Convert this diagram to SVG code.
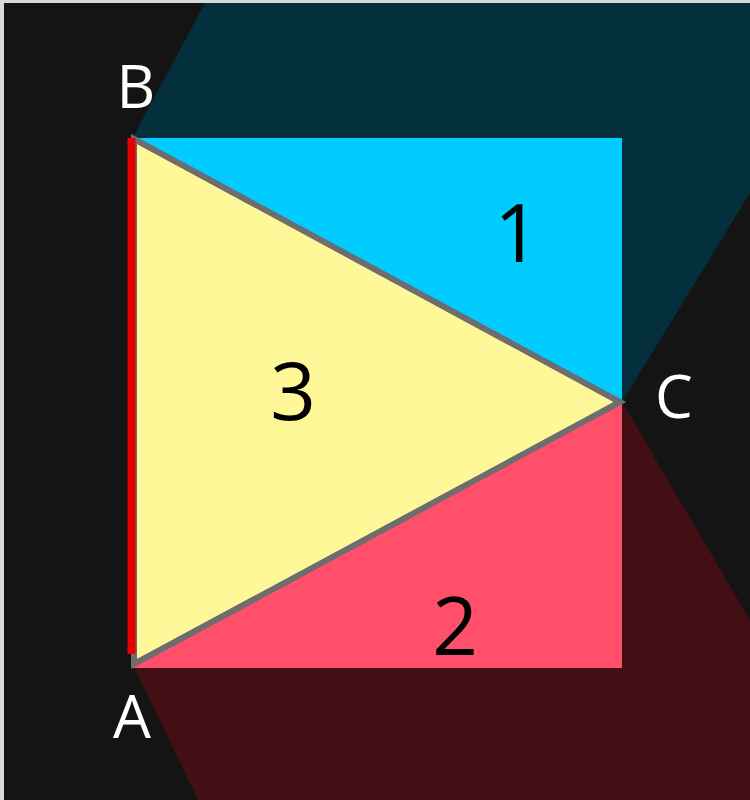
<svg xmlns="http://www.w3.org/2000/svg" width="750" height="800" viewBox="0 0 750 800">
  <style>
    .lbl { font-family: "Open Sans", "Liberation Sans", sans-serif; fill: #ffffff; text-anchor: middle; font-size: 60px; }
    .num { font-family: "Open Sans", "Liberation Sans", sans-serif; fill: #000000; text-anchor: middle; font-size: 80px; }
  </style>
  <rect x="0" y="0" width="750" height="800" fill="#d9d9d9"/>
  <rect x="4" y="3" width="746" height="797" fill="#141414"/>
  <g id="shadow-top">
    <polygon points="133,137 205,3 750,3 750,193 622,402" fill="#042f3c"/>
  </g>
  <g id="shadow-bottom">
    <polygon points="622,402 750,620 750,800 198,800 133,665" fill="#430e14"/>
  </g>
  <g id="region1">
    <polygon points="131,138 622,138 622,402" fill="#00ccff"/>
  </g>
  <g id="region2">
    <polygon points="131,668 622,668 622,402" fill="#ff4f6a"/>
  </g>
  <g id="region3">
    <polygon points="134,139 620,402 134,664" fill="#fff899" stroke="#6d6d6d" stroke-width="6" stroke-linejoin="miter"/>
  </g>
  <g id="edge-AB">
    <line x1="131.5" y1="138" x2="131.5" y2="654" stroke="#e60000" stroke-width="8"/>
  </g>
  <g id="labels">
    <text class="lbl" x="136" y="108">B</text>
    <text class="lbl" x="674" y="418">C</text>
    <text class="lbl" x="132" y="738">A</text>
    <text class="num" x="517" y="262">1</text>
    <text class="num" x="293" y="420">3</text>
    <text class="num" x="455" y="655">2</text>
  </g>
</svg>
